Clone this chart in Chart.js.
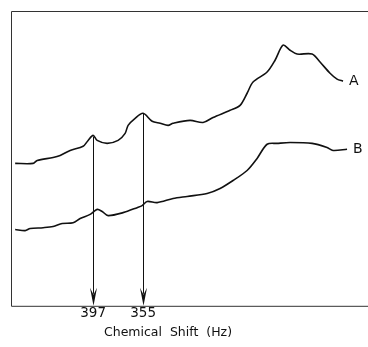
<!DOCTYPE html>
<html>
<head>
<meta charset="utf-8">
<script src="https://cdn.jsdelivr.net/npm/chart.js@4.4.0/dist/chart.umd.min.js"></script>
<style>
  html, body { margin: 0; padding: 0; background: #fff; }
  #wrap { width: 368px; height: 347px; }
</style>
</head>
<body>
<div id="wrap"><canvas id="myChart"></canvas></div>
<script>
// chemical shift (Hz) and relative intensity
const shiftA = [462.5, 447.4, 444.0, 430.6, 424.7, 416.3, 405.4, 401.2, 397.0, 393.6, 385.2, 376.0, 370.1, 367.6, 361.7, 355.0, 347.4, 340.7, 334.0, 329.8, 315.5, 304.6, 296.2, 281.9, 273.5, 267.6, 262.6, 250.8, 244.1, 237.4, 231.5, 225.6, 213.0, 206.3, 197.9, 192.0, 187.0];
const intensityA = [48.3, 48.3, 49.3, 50.3, 51.0, 52.7, 54.1, 56.1, 57.8, 56.1, 55.1, 56.1, 58.5, 61.2, 63.6, 65.3, 62.6, 61.9, 61.2, 61.9, 62.9, 62.2, 63.9, 66.3, 68.0, 72.1, 75.9, 79.3, 83.3, 88.4, 86.7, 85.4, 85.4, 82.7, 78.9, 76.9, 76.2];

const shiftB = [462.5, 454.1, 449.9, 439.0, 430.6, 423.0, 413.8, 407.9, 399.5, 393.6, 389.4, 384.4, 371.8, 360.0, 355.8, 351.6, 343.2, 329.8, 318.0, 301.2, 290.3, 279.4, 267.6, 259.2, 250.8, 242.4, 231.5, 213.0, 200.4, 195.4, 183.6];
const intensityB = [25.9, 25.5, 26.2, 26.5, 26.9, 27.9, 28.2, 29.6, 31.0, 32.7, 32.0, 30.6, 31.6, 33.3, 34.0, 35.4, 35.0, 36.4, 37.1, 38.1, 39.8, 42.5, 45.9, 50.0, 54.8, 55.1, 55.4, 55.1, 53.7, 52.7, 53.1];

const seriesNames = ['A', 'B'];

// marked peaks (arrows) and the axis ticks
const arrowShift = [397, 355];
const arrowTop = [57.3, 65.3];
const tickLabels = [397, 355];

const toPoints = (xs, ys) => xs.map((x, i) => ({ x: x, y: ys[i] }));

// frame, arrows, series letters and axis title
const decorations = {
  id: 'decorations',
  afterDatasetsDraw(chart) {
    const { ctx, chartArea: area, scales } = chart;
    ctx.save();

    // frame: top, left, bottom
    ctx.strokeStyle = '#333';
    ctx.lineWidth = 1;
    ctx.beginPath();
    ctx.moveTo(area.right, area.top + 0.5);
    ctx.lineTo(area.left + 0.5, area.top + 0.5);
    ctx.lineTo(area.left + 0.5, area.bottom + 0.5);
    ctx.lineTo(area.right, area.bottom + 0.5);
    ctx.stroke();

    // arrows
    ctx.fillStyle = '#111';
    ctx.strokeStyle = '#111';
    arrowShift.forEach((hz, i) => {
      const x = Math.round(scales.x.getPixelForValue(hz)) + 0.5;
      const y0 = scales.y.getPixelForValue(arrowTop[i]);
      const y1 = area.bottom;
      ctx.lineWidth = 1;
      ctx.beginPath();
      ctx.moveTo(x, y0);
      ctx.lineTo(x, y1 - 12);
      ctx.stroke();
      ctx.beginPath();
      ctx.moveTo(x - 3.5, y1 - 18);
      ctx.lineTo(x, y1 - 11);
      ctx.lineTo(x + 3.5, y1 - 18);
      ctx.lineTo(x, y1);
      ctx.closePath();
      ctx.fill();
    });

    // series letters next to the trace ends
    ctx.font = '14px "DejaVu Sans"';
    ctx.textBaseline = 'middle';
    ctx.textAlign = 'left';
    chart.data.datasets.forEach((ds, i) => {
      const last = ds.data[ds.data.length - 1];
      const px = scales.x.getPixelForValue(last.x);
      const py = scales.y.getPixelForValue(last.y);
      ctx.fillText(seriesNames[i], px + 6, py);
    });

    // axis title
    ctx.textAlign = 'center';
    ctx.textBaseline = 'alphabetic';
    ctx.font = '12.5px "DejaVu Sans"';
    ctx.fillText('Chemical  Shift  (Hz)', area.left + 157, chart.height - 11);

    ctx.restore();
  }
};

new Chart(document.getElementById('myChart'), {
  type: 'line',
  data: {
    datasets: [
      { label: seriesNames[0], data: toPoints(shiftA, intensityA) },
      { label: seriesNames[1], data: toPoints(shiftB, intensityB) }
    ]
  },
  options: {
    responsive: true,
    maintainAspectRatio: false,
    animation: false,
    events: [],
    layout: { padding: { left: 11, top: 11, right: 0, bottom: 25 } },
    elements: {
      line: { borderColor: '#111', borderWidth: 1.6, tension: 0.3, fill: false },
      point: { radius: 0 }
    },
    plugins: {
      legend: { display: false },
      tooltip: { enabled: false }
    },
    scales: {
      x: {
        type: 'linear',
        reverse: true,
        min: 166,
        max: 466,
        grid: { display: false, drawTicks: false },
        border: { display: false },
        afterBuildTicks: (axis) => { axis.ticks = tickLabels.map(v => ({ value: v })); },
        ticks: {
          color: '#111',
          padding: 0,
          font: { family: 'DejaVu Sans', size: 13.5 },
          callback: (v) => String(v)
        }
      },
      y: {
        display: false,
        min: 0,
        max: 100
      }
    }
  },
  plugins: [decorations]
});
</script>
</body>
</html>
